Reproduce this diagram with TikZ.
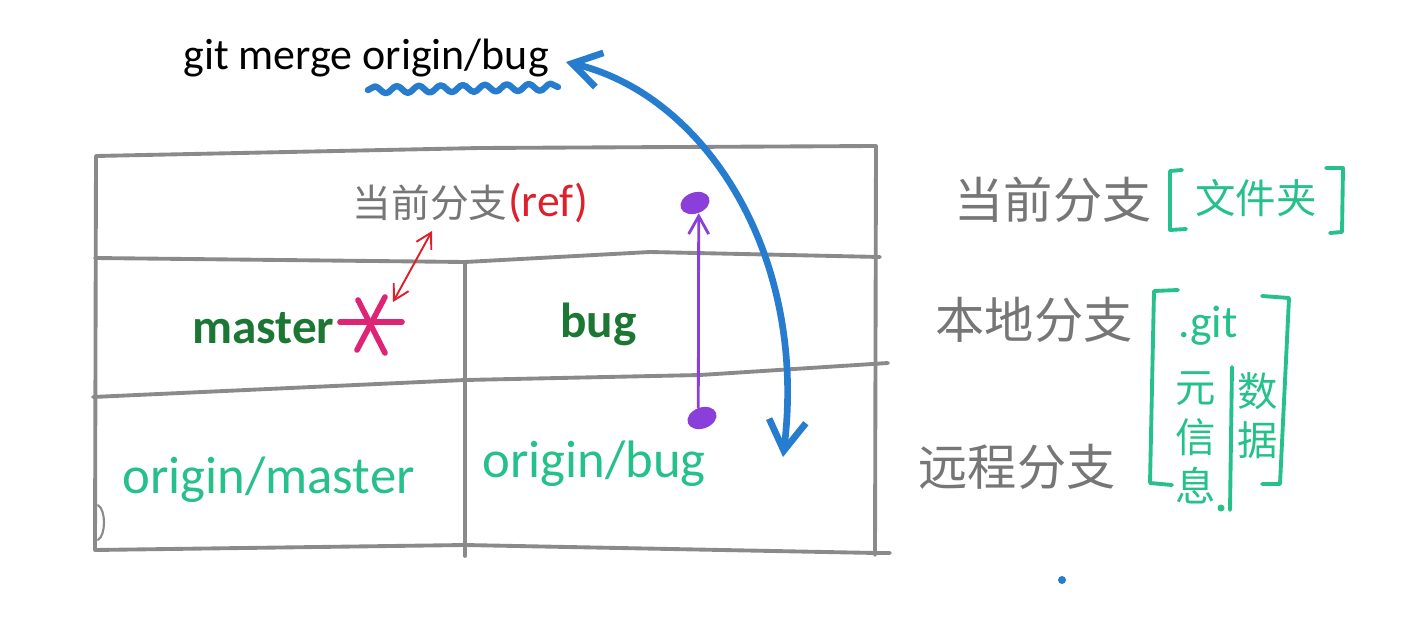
\documentclass[tikz,border=0pt]{standalone}
\usepackage{fontspec}
\setmainfont{Carlito}
\newfontfamily\cjk{Noto Sans CJK SC}
\usetikzlibrary{arrows.meta,decorations.pathmorphing,shapes.geometric,positioning}

\definecolor{grigio}{RGB}{138,138,138}
\definecolor{scritta}{RGB}{118,118,118}
\definecolor{verdescuro}{RGB}{28,118,52}
\definecolor{verdeacqua}{RGB}{38,192,138}
\definecolor{azzurro}{RGB}{38,124,206}
\definecolor{viola}{RGB}{138,62,218}
\definecolor{rosso}{RGB}{222,32,44}
\definecolor{rosa}{RGB}{222,36,116}

\begin{document}
\begin{tikzpicture}[x=0.2mm, y=-0.2mm, line cap=round, line join=round,
  griglia/.style={draw=grigio, line width=2.2pt},
  ramo/.style={inner sep=0pt, anchor=base west, font=\bfseries\fontsize{28}{32}\selectfont, text=verdescuro},
  remoto/.style={inner sep=0pt, anchor=base west, font=\fontsize{30}{34}\selectfont, text=verdeacqua},
  etichetta/.style={inner sep=0pt, text=scritta, font=\cjk\fontsize{28}{32}\selectfont},
  cartella/.style={inner sep=0pt, text=verdeacqua, font=\cjk\fontsize{23}{28}\selectfont, align=center},
  parentesi/.style={draw=verdeacqua, line width=2.2pt},
  punto/.style={ellipse, fill=viola, inner sep=0pt, minimum width=6mm, minimum height=4.2mm, rotate=20}]
  \useasboundingbox (0,0) rectangle (1403,636);

  % comando
  \node[inner sep=0pt, anchor=base west, font=\fontsize{25}{30}\selectfont] (cmd) at (183,70) {git merge origin/bug};
  \coordinate (cmdfine) at (566,62);
  \draw[azzurro, line width=3.6pt, decorate, decoration={snake, segment length=4.4mm, amplitude=0.7mm}]
    (368,90) -- (558,87);

  % tabella
  \draw[griglia] (96,156) -- (480,148) -- (876,146) -- (875,555);
  \draw[griglia] (96,156) -- (95,550) -- (465,545) -- (876,553) -- (890,553);
  \draw[griglia] (95,258) -- (465,262) -- (650,252) -- (880,257);
  \draw[griglia] (93,397) -- (465,380) -- (700,375) -- (888,363);
  \draw[griglia] (465,262) -- (465,556);
  \draw[draw=grigio, line width=1.2pt] (98,505) .. controls (106,510) and (106,535) .. (98,540);

  % intestazione
  \node[etichetta, font=\cjk\fontsize{22}{26}\selectfont] (hdr) at (430,203) {当前分支};
  \node[inner sep=0pt, right=0pt of hdr, text=rosso, font=\fontsize{26}{30}\selectfont] (refl) {(ref)};

  % rami
  \node[ramo] (master) at (192,343) {master};
  \node[ramo] (bug) at (560,337) {bug};
  \node[remoto] (omaster) at (122,493) {origin/master};
  \node[remoto] (obug) at (482,477) {origin/bug};

  % asterisco
  \coordinate (stella) at (373,323);
  \draw[rosa, line width=3.2pt] (340,322) -- (402,322);
  \draw[rosa, line width=3.2pt] (358,300) -- (385,353);
  \draw[rosa, line width=3.2pt] (385,297) -- (357,350);
  \coordinate (rsu) at (432,231);
  \coordinate (rgiu) at (393,302);
  \draw[rosso, line width=1.1pt, {Straight Barb[length=3mm,width=3.4mm]}-{Straight Barb[length=3mm,width=3.4mm]}] (rgiu) -- (rsu);

  % puntatori
  \node[punto] (psu) at (695,203) {};
  \node[punto] (pgiu) at (702,418) {};
  \draw[viola, line width=1.6pt, -{Straight Barb[length=3.6mm,width=4mm]}] (pgiu.north) -- (psu.south);

  % freccia merge
  \coordinate (mgiu) at (783,457);
  \draw[azzurro, line width=3.8pt, {Straight Barb[length=5.6mm,width=7mm]}-{Straight Barb[length=6mm,width=7.4mm]}]
    (cmdfine) .. controls (705,95) and (808,255) .. (mgiu);

  % legenda
  \node[etichetta] (cur) at (1053,200) {当前分支};
  \node[etichetta] (loc) at (1034,320) {本地分支};
  \node[etichetta] (rem) at (1017,467) {远程分支};
  \node[cartella] (dir) at (1256,198) {文件夹};
  \draw[parentesi] (1182,170) -- (1170,171) -- (1170,230) -- (1186,229);
  \draw[parentesi] (1326,168) -- (1343,168) -- (1342,232) -- (1330,233);
  \node[inner sep=0pt, text=verdeacqua, font=\fontsize{26}{30}\selectfont] (gitdir) at (1208,326) {.git};
  \node[cartella] (meta) at (1196,438) {元\\信\\息};
  \node[cartella] (dati) at (1258,416) {数\\据};
  \draw[parentesi] (1178,290) -- (1154,291) -- (1150,483) -- (1172,485);
  \draw[parentesi] (1262,296) -- (1289,298) -- (1280,484) -- (1262,484);
  \draw[parentesi] (1232,367) -- (1230,510);
  \fill[verdeacqua] (1221,508) circle (3.5);

  % puntino
  \fill[azzurro] (1062,580) circle (4);
\end{tikzpicture}
\end{document}
